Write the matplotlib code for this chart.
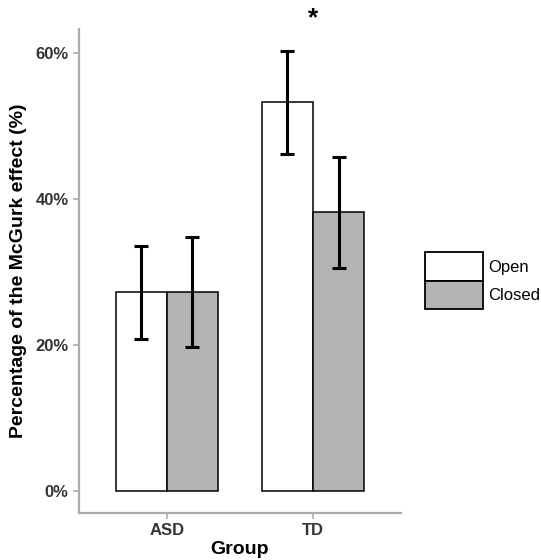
import matplotlib.pyplot as plt
import numpy as np
from matplotlib.patches import Patch
from matplotlib.ticker import FuncFormatter

# Data (percent)
groups = ["ASD", "TD"]
conditions = ["Open", "Closed"]
open_mean = [27.3, 53.3]
open_low = [20.8, 46.2]
open_high = [33.6, 60.3]
closed_mean = [27.3, 38.2]
closed_low = [19.8, 30.6]
closed_high = [34.8, 45.8]
yticks = [0, 20, 40, 60]
sig_marks = ["", "*"]

plt.rcParams["font.family"] = ["Liberation Sans", "DejaVu Sans"]

fig = plt.figure(figsize=(5.41, 5.6), dpi=100)
ax = fig.add_axes([0.146, 0.084, 0.595, 0.864])

x = np.arange(1, len(groups) + 1)
w = 0.35
spine_col = "#ababab"
label_col = "#333333"

series = [
    (open_mean, open_low, open_high, "white", -w / 2),
    (closed_mean, closed_low, closed_high, "#b3b3b3", w / 2),
]
for mean, low, high, col, off in series:
    mean = np.array(mean)
    yerr = [mean - np.array(low), np.array(high) - mean]
    ax.bar(x + off, mean, width=w, color=col, edgecolor="black", linewidth=1.1, zorder=2)
    ax.errorbar(x + off, mean, yerr=yerr, fmt="none", ecolor="black",
                elinewidth=2.2, capsize=5, capthick=2.2, zorder=3)

# significance asterisk
for xi, mark in zip(x, sig_marks):
    if mark:
        ax.text(xi, 64.8, mark, ha="center", va="center", fontsize=19,
                fontweight="bold", clip_on=False)

ax.set_xlim(0.4, 2.6)
ax.set_ylim(-3.0, 63.3)
ax.set_xticks(x)
ax.set_xticklabels(groups)
ax.set_yticks(yticks)
ax.yaxis.set_major_formatter(FuncFormatter(lambda v, p: f"{v:.0f}%"))

for s in ["top", "right"]:
    ax.spines[s].set_visible(False)
for s in ["left", "bottom"]:
    ax.spines[s].set_color(spine_col)
    ax.spines[s].set_linewidth(1.6)
ax.tick_params(colors=spine_col, width=1.2, length=4, labelcolor=label_col,
               labelsize=12)
for lab in ax.get_xticklabels() + ax.get_yticklabels():
    lab.set_fontweight("bold")

ax.set_xlabel("Group", fontsize=14, fontweight="bold", labelpad=2)
ax.set_ylabel("Percentage of the McGurk effect (%)", fontsize=14,
              fontweight="bold", labelpad=6)

handles = [
    Patch(facecolor="white", edgecolor="black", linewidth=1.3),
    Patch(facecolor="#b3b3b3", edgecolor="black", linewidth=1.3),
]
fig.legend(handles, conditions, loc="center left", bbox_to_anchor=(0.7856, 0.499),
           frameon=False, fontsize=12, handlelength=3.5, handleheight=2.25,
           labelspacing=0, handletextpad=0.3, borderpad=0, borderaxespad=0)

fig.savefig("out.png", dpi=100)
